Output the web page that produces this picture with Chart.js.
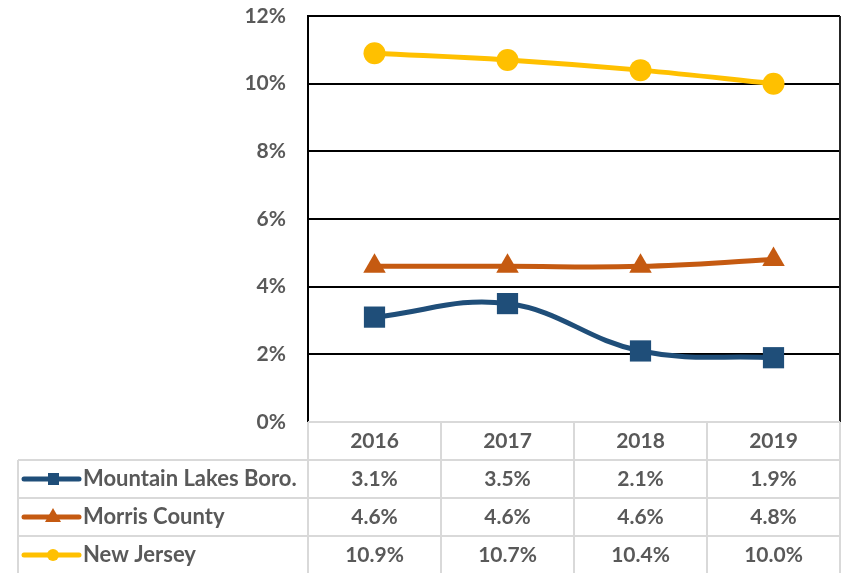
<!DOCTYPE html>
<html>
<head>
<meta charset="utf-8">
<script src="https://cdn.jsdelivr.net/npm/chart.js@4"></script>
<style>
    html, body { margin: 0; padding: 0; background: #fff; }
    #wrap { width: 843px; height: 573px; position: relative; }
</style>
</head>
<body>
<div id="wrap"><canvas id="chart"></canvas></div>
<script>
// Data
const years = ['2016', '2017', '2018', '2019'];
const mountainLakes = [3.1, 3.5, 2.1, 1.9];
const morrisCounty = [4.6, 4.6, 4.6, 4.8];
const newJersey = [10.9, 10.7, 10.4, 10.0];
const seriesNames = ['Mountain Lakes Boro.', 'Morris County', 'New Jersey'];
const yMin = 0, yMax = 12, yStep = 2;

const textColor = '#595959';
const tableLine = '#d9d9d9';
const fontFamily = 'Lato, "Open Sans", sans-serif';

// Draws the data table under the plot, lined up with the x scale
const dataTable = {
    id: 'dataTable',
    afterDraw(chart) {
        const ctx = chart.ctx;
        const area = chart.chartArea;
        const x = chart.scales.x;
        const colW = x.getPixelForValue(1) - x.getPixelForValue(0);
        const rowH = 38;
        const top = area.bottom;
        const tableLeft = 18;
        const bottom = chart.height + 2;

        ctx.save();

        // right border of plot area
        ctx.strokeStyle = '#262626';
        ctx.lineWidth = 2;
        ctx.beginPath();
        ctx.moveTo(area.right, area.top);
        ctx.lineTo(area.right, area.bottom);
        ctx.stroke();

        // table grid
        ctx.strokeStyle = tableLine;
        ctx.lineWidth = 2;
        ctx.beginPath();
        ctx.moveTo(area.left, top);
        ctx.lineTo(area.right, top);
        for (let r = 1; r <= 3; r++) {
            ctx.moveTo(tableLeft, top + r * rowH);
            ctx.lineTo(area.right, top + r * rowH);
        }
        for (let i = 0; i <= years.length; i++) {
            const cx = x.getPixelForValue(0) - colW / 2 + i * colW;
            ctx.moveTo(cx, top);
            ctx.lineTo(cx, bottom);
        }
        ctx.moveTo(tableLeft, top + rowH);
        ctx.lineTo(tableLeft, bottom);
        ctx.stroke();

        // header + values
        ctx.fillStyle = textColor;
        ctx.textAlign = 'center';
        ctx.textBaseline = 'middle';
        ctx.font = 'bold 21px ' + fontFamily;
        years.forEach((y, i) => {
            ctx.fillText(y, x.getPixelForValue(i), top + rowH / 2);
        });
        chart.data.datasets.forEach((ds, r) => {
            const cy = top + rowH * (r + 1) + rowH / 2;
            ctx.font = 'bold 21px ' + fontFamily;
            ds.data.forEach((v, i) => {
                ctx.fillText(v.toFixed(1) + '%', x.getPixelForValue(i), cy);
            });

            // legend key
            ctx.strokeStyle = ds.borderColor;
            ctx.fillStyle = ds.borderColor;
            ctx.lineWidth = 5;
            ctx.lineCap = 'round';
            ctx.beginPath();
            ctx.moveTo(24, cy);
            ctx.lineTo(79, cy);
            ctx.stroke();
            const mx = 53;
            ctx.beginPath();
            if (ds.pointStyle === 'rect') {
                ctx.rect(mx - 5, cy - 6, 11, 12);
            } else if (ds.pointStyle === 'triangle') {
                ctx.moveTo(mx, cy - 9);
                ctx.lineTo(mx + 8, cy + 5);
                ctx.lineTo(mx - 8, cy + 5);
                ctx.closePath();
            } else {
                ctx.arc(mx, cy, 6, 0, Math.PI * 2);
            }
            ctx.fill();

            ctx.fillStyle = textColor;
            ctx.textAlign = 'left';
            ctx.font = 'bold 22px ' + fontFamily;
            ctx.fillText(seriesNames[r], 83, cy);
            ctx.textAlign = 'center';
        });

        ctx.restore();
    }
};

const ctx = document.getElementById('chart').getContext('2d');
const chart = new Chart(ctx, {
    type: 'line',
    data: {
        labels: years,
        datasets: [{
            label: seriesNames[0],
            data: mountainLakes,
            borderColor: '#1f4e79',
            backgroundColor: '#1f4e79',
            borderWidth: 5,
            tension: 0.4,
            pointStyle: 'rect',
            pointRadius: 15,
            pointBorderWidth: 0
        }, {
            label: seriesNames[1],
            data: morrisCounty,
            borderColor: '#c55a11',
            backgroundColor: '#c55a11',
            borderWidth: 5,
            tension: 0.4,
            pointStyle: 'triangle',
            pointRadius: 13,
            pointBorderWidth: 0
        }, {
            label: seriesNames[2],
            data: newJersey,
            borderColor: '#ffc000',
            backgroundColor: '#ffc000',
            borderWidth: 5,
            tension: 0.4,
            pointStyle: 'circle',
            pointRadius: 11,
            pointBorderWidth: 0
        }]
    },
    options: {
        responsive: true,
        maintainAspectRatio: false,
        animation: false,
        layout: {
            autoPadding: false,
            padding: { top: 16, right: 3, bottom: 151, left: 0 }
        },
        plugins: {
            legend: { display: false },
            tooltip: { enabled: false }
        },
        scales: {
            x: {
                type: 'category',
                display: false,
                offset: true
            },
            y: {
                min: yMin,
                max: yMax,
                afterFit: function (scale) {
                    scale.width = 308;
                },
                ticks: {
                    stepSize: yStep,
                    padding: 0,
                    color: textColor,
                    font: { family: fontFamily, size: 21, weight: 'bold' },
                    callback: function (value) {
                        return value + '%';
                    }
                },
                grid: {
                    drawTicks: true,
                    tickLength: 22,
                    tickColor: 'rgba(0,0,0,0)',
                    lineWidth: 2,
                    color: function (c) {
                        return c.tick && c.tick.value === 0 ? 'rgba(0,0,0,0)' : '#000';
                    }
                },
                border: { display: true, color: '#000', width: 2 }
            }
        }
    },
    plugins: [dataTable]
});
</script>
</body>
</html>
